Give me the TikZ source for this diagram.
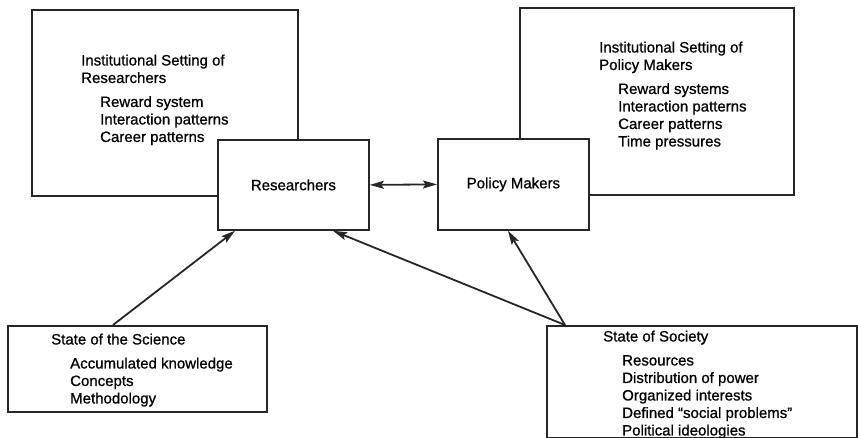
\documentclass[tikz,border=0pt]{standalone}
\usepackage{fontspec}
\setmainfont{Liberation Sans}[FakeBold=0.8]
\usetikzlibrary{arrows.meta}
\newcommand{\indentry}{\hspace*{19pt}}

\begin{document}
\begin{tikzpicture}[x=1pt, y=-1pt]
            \useasboundingbox (0,0) rectangle (858,438);
            \begin{scope}[every node/.style={draw=black!85, fill=white, line width=1.8pt, anchor=north west, inner sep=0pt,
                                             font=\fontsize{15}{17.5}\selectfont}]
                \node (RIS) [minimum width=266pt, minimum height=186pt] at (31, 9) {};
                \node (PIS) [minimum width=274pt, minimum height=187pt] at (519, 7) {};
                \node (R) [minimum width=151pt, minimum height=90pt] at (217, 139) {Researchers};
                \node (P) [minimum width=151pt, minimum height=91pt] at (437, 138) {Policy Makers};
                \node (Sci) [minimum width=259pt, minimum height=86pt] at (7, 325) {};
                \node (Soc) [minimum width=310pt, minimum height=112pt] at (546, 325) {};
            \end{scope}

            \begin{scope}[every node/.style={anchor=north west, inner sep=0pt, align=left,
                                             font=\fontsize{15}{17.5}\selectfont}]
                \node (RIStext) at (81, 54.4) {Institutional Setting of\\Researchers\\[6.5pt]
                    \indentry Reward system\\\indentry Interaction patterns\\\indentry Career patterns};
                \node (PIStext) at (599, 41.4) {Institutional Setting of\\Policy Makers\\[6.5pt]
                    \indentry Reward systems\\\indentry Interaction patterns\\\indentry Career patterns\\\indentry Time pressures};
                \node (Scitext) at (51, 333.4) {State of the Science\\[6.5pt]
                    \indentry Accumulated knowledge\\\indentry Concepts\\\indentry Methodology};
                \node (Soctext) at (603, 330.4) {State of Society\\[6.5pt]
                    \indentry Resources\\\indentry Distribution of power\\\indentry Organized interests\\
                    \indentry Defined ``social problems''\\\indentry Political ideologies};
            \end{scope}

            \begin{scope}[line width=1.8pt, draw=black!85,
                          >={Stealth[length=14pt, width=8pt, inset=2.5pt]},
                          every edge/.style={draw=black!85, line width=1.8pt}]
                \path (Sci.north west) ++(106,0) coordinate (SciOut);
                \path (Soc.north west) ++(19,0) coordinate (SocOut);
                \path [->] (SciOut) edge ([xshift=18pt]R.south west);
                \path [->] (SocOut) edge ([xshift=116pt]R.south west);
                \path [->] (SocOut) edge ([xshift=71pt]P.south west);
                \path [<->] (R.east) edge (P.west);
            \end{scope}
        \end{tikzpicture}
\end{document}
